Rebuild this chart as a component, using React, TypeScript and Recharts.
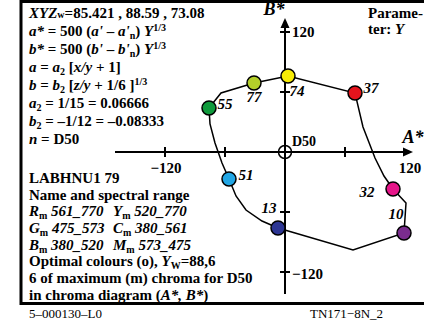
import React from 'react';
import { ScatterChart, Scatter, XAxis, YAxis, ReferenceLine, ReferenceDot, Customized } from 'recharts';

// Hue loop of the optimal colours in the (A*, B*) chroma plane
const curveA = [-76, -64, -31, 3, 70, 78, 90, 99, 108, 121, 119, 68, -7, -23, -39, -49, -56, -63, -70, -75, -76];
const curveB = [44, 59, 69, 76, 59, 25, -6, -24, -37, -51, -81, -98, -76, -69, -58, -44, -27, -11, 9, 28, 44];

// Marked colours and their lightness labels
const dotLabels = ['55', '77', '74', '37', '32', '10', '13', '51'];
const dotA = [-76, -31, 3, 70, 108, 119, -7, -56];
const dotB = [44, 69, 76, 59, -37, -81, -76, -27];
const dotColors = ['#0f9a3c', '#b4cf2a', '#f7ec06', '#e5141d', '#e6168a', '#7a2c8e', '#2c3593', '#22a6e4'];

const ticksA = [-120, -60, 60];
const ticksB = [-120, -60, 60, 120];

const W = 424;
const H = 324;
const SERIF = "'Liberation Serif', 'Times New Roman', serif";

const curveData = curveA.map((a, i) => ({ a, b: curveB[i] }));
const dotData = dotA.map((a, i) => ({ a, b: dotB[i], label: dotLabels[i], color: dotColors[i] }));

const labelOffsets: Record<string, [number, number]> = {
  '55': [16, -4],
  '77': [0, 14],
  '74': [9, 15],
  '37': [16, -5],
  '32': [-26, 3],
  '10': [-8, -19],
  '13': [-9, -20],
  '51': [17, -4],
};

// flags: i = italic, b = subscript, p = superscript, s = small
type Seg = [string, string?];

function Rich({ x, y, segs, size = 15 }: { x: number; y: number; segs: Seg[]; size?: number }) {
  let shift = 0;
  const spans = segs.map(([t, f = ''], k) => {
    const target = f.includes('b') ? 3 : f.includes('p') ? -5.5 : 0;
    const dy = target - shift;
    shift = target;
    const small = target !== 0 || f.includes('s');
    return (
      <tspan key={k} dy={dy} fontStyle={f.includes('i') ? 'italic' : 'normal'} fontSize={small ? 10 : size}>
        {t}
      </tspan>
    );
  });
  return (
    <text x={x} y={y} fontFamily={SERIF} fontWeight="bold" fontSize={size} fill="#000" style={{ whiteSpace: 'pre' }}>
      {spans}
    </text>
  );
}

const textLines: { y: number; segs: Seg[]; x?: number }[] = [
  { y: 18, segs: [['XYZ', 'i'], ['w', 's'], ['=85.421 , 88.59 , 73.08']] },
  { y: 36, segs: [['a*', 'i'], [' = 500 ('], ["a'", 'i'], [' – '], ["a'", 'i'], ['n', 'b'], [') '], ['Y', 'i'], ['1/3', 'p']] },
  { y: 54, segs: [['b*', 'i'], [' = 500 ('], ["b'", 'i'], [' – '], ["b'", 'i'], ['n', 'b'], [') '], ['Y', 'i'], ['1/3', 'p']] },
  { y: 72, segs: [['a', 'i'], [' = '], ['a', 'i'], ['2', 'b'], [' ['], ['x/y', 'i'], [' + 1]']] },
  { y: 90, segs: [['b', 'i'], [' = '], ['b', 'i'], ['2', 'b'], [' ['], ['z/y', 'i'], [' + 1/6 ]'], ['1/3', 'p']] },
  { y: 108, segs: [['a', 'i'], ['2', 'b'], [' = 1/15 = 0.06666']] },
  { y: 126, segs: [['b', 'i'], ['2', 'b'], [' = –1/12 = –0.08333']] },
  { y: 144, segs: [['n', 'i'], [' = D50']] },
  { y: 183, segs: [['LABHNU1 79']] },
  { y: 199.7, segs: [['Name and spectral range']] },
  { y: 216.3, segs: [['R', 'i'], ['m', 'b'], [' 561_770', 'i']] },
  { y: 216.3, x: 113, segs: [['Y', 'i'], ['m', 'b'], [' 520_770', 'i']] },
  { y: 233, segs: [['G', 'i'], ['m', 'b'], [' 475_573', 'i']] },
  { y: 233, x: 113, segs: [['C', 'i'], ['m', 'b'], [' 380_561', 'i']] },
  { y: 249.7, segs: [['B', 'i'], ['m', 'b'], [' 380_520', 'i']] },
  { y: 249.7, x: 113, segs: [['M', 'i'], ['m', 'b'], [' 573_475', 'i']] },
  { y: 266.3, segs: [['Optimal colours (o), '], ['Y', 'i'], ['W', 'b'], ['=88,6']] },
  { y: 283, segs: [['6 of maximum (m) chroma for D50']] },
  { y: 299.5, segs: [['in chroma diagram ('], ['A*, B*', 'i'], [')']] },
];

// frame, formula block and footer
function Panel() {
  return (
    <g>
      <rect x={21} y={1.5} width={W} height={302} fill="none" stroke="#000" strokeWidth={3} />
      {textLines.map((l, i) => (
        <Rich key={i} x={l.x ?? 29} y={l.y} segs={l.segs} />
      ))}
      <Rich x={368} y={18} segs={[['Parame-']]} />
      <Rich x={368} y={34} segs={[['ter: '], ['Y', 'i']]} />
      <text x={29} y={318} fontFamily={SERIF} fontSize={13} fill="#000">5–000130–L0</text>
      <text x={310} y={318} fontFamily={SERIF} fontSize={13} fill="#000">TN171−8N_2</text>
    </g>
  );
}

const txt = (dx: number, dy: number, value: string, anchor = 'middle', size = 15, italic = false) => (p: any) => (
  <text
    x={p.cx + dx}
    y={p.cy + dy}
    textAnchor={anchor}
    dominantBaseline="central"
    fontFamily={SERIF}
    fontWeight="bold"
    fontStyle={italic ? 'italic' : 'normal'}
    fontSize={size}
    fill="#000"
  >
    {value}
  </text>
);

function ColourDot(p: any) {
  const [dx, dy] = labelOffsets[p.payload.label];
  return (
    <g>
      <circle cx={p.cx} cy={p.cy} r={7} fill={p.payload.color} stroke="#000" strokeWidth={1.5} />
      <text
        x={p.cx + dx}
        y={p.cy + dy}
        textAnchor="middle"
        dominantBaseline="central"
        fontFamily={SERIF}
        fontWeight="bold"
        fontStyle="italic"
        fontSize={15}
        fill="#000"
      >
        {p.payload.label}
      </text>
    </g>
  );
}

export default function App() {
  return (
    <div style={{ position: 'absolute', left: 0, top: 0, width: W, height: H, background: '#fff' }}>
      <ScatterChart width={W} height={H} margin={{ top: 0, right: 0, bottom: 0, left: 0 }}>
        <XAxis type="number" dataKey="a" domain={[-285, 139]} hide allowDataOverflow />
        <YAxis type="number" dataKey="b" domain={[-172, 152]} hide allowDataOverflow />
        <Customized component={<Panel />} />

        {/* axes */}
        <ReferenceLine segment={[{ x: -170, y: 0 }, { x: 120, y: 0 }]} stroke="#000" strokeWidth={2} />
        <ReferenceLine segment={[{ x: 0, y: -142 }, { x: 0, y: 126 }]} stroke="#000" strokeWidth={2} />
        <ReferenceDot
          x={128}
          y={0}
          r={0}
          shape={(p: any) => <path d={`M${p.cx},${p.cy} l-10,-4.5 l0,9 z`} fill="#000" />}
        />
        <ReferenceDot
          x={0}
          y={134}
          r={0}
          shape={(p: any) => <path d={`M${p.cx},${p.cy} l-4.5,10 l9,0 z`} fill="#000" />}
        />
        {ticksA.map((t) => (
          <ReferenceLine key={'ta' + t} segment={[{ x: t, y: -5 }, { x: t, y: 5 }]} stroke="#000" strokeWidth={2} />
        ))}
        {ticksB.map((t) => (
          <ReferenceLine key={'tb' + t} segment={[{ x: -5, y: t }, { x: 5, y: t }]} stroke="#000" strokeWidth={2} />
        ))}
        <ReferenceDot x={-120} y={0} r={0} shape={txt(1, 16, '−120')} />
        <ReferenceDot x={128} y={0} r={0} shape={txt(-3, 16, '120')} />
        <ReferenceDot x={0} y={120} r={0} shape={txt(7, 0, '120', 'start')} />
        <ReferenceDot x={0} y={-120} r={0} shape={txt(7, 2, '−120', 'start')} />
        <ReferenceDot x={128} y={0} r={0} shape={txt(0, -15, 'A*', 'middle', 18, true)} />
        <ReferenceDot x={0} y={134} r={0} shape={txt(-11, -9, 'B*', 'middle', 18, true)} />
        <ReferenceDot x={0} y={0} r={0} shape={txt(7, -11, 'D50', 'start', 14)} />
        <ReferenceDot
          x={0}
          y={0}
          r={0}
          shape={(p: any) => <circle cx={p.cx} cy={p.cy} r={6.5} fill="none" stroke="#000" strokeWidth={1.5} />}
        />

        <Scatter
          data={curveData}
          line={{ stroke: '#000', strokeWidth: 1.5 }}
          shape={() => <g />}
          isAnimationActive={false}
        />
        <Scatter data={dotData} shape={ColourDot} isAnimationActive={false} />
      </ScatterChart>
    </div>
  );
}
